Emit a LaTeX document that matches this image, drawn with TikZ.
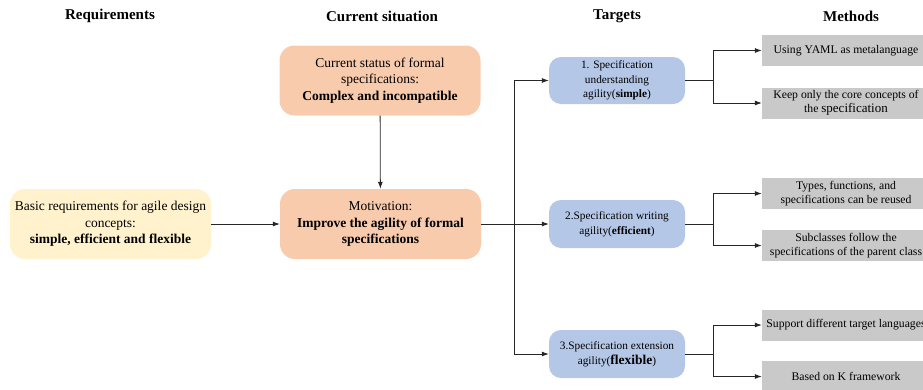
\documentclass[tikz,border=0pt]{standalone}
\usepackage{fontspec}
\setmainfont{Liberation Serif}
\usetikzlibrary{arrows.meta,positioning}
\definecolor{yel}{HTML}{FFF2CC}
\definecolor{ora}{HTML}{F8CBAD}
\definecolor{blu}{HTML}{B4C7E7}
\definecolor{gry}{HTML}{C9C9C9}
\begin{document}
\begin{tikzpicture}[x=1pt,y=-1pt,
  head/.style={font=\fontsize{15}{17}\selectfont\bfseries, inner sep=0pt},
  bigbox/.style={rounded corners=15pt, draw=none, minimum width=201pt, minimum height=70pt, align=center, inner sep=0pt, font=\fontsize{13.5}{16.5}\selectfont},
  tbox/.style={fill=blu, rounded corners=12pt, minimum width=136pt, minimum height=48pt, align=center, inner sep=0pt, font=\fontsize{11.3}{14.5}\selectfont},
  mbox/.style={fill=gry, minimum width=168pt, minimum height=31pt, align=center, inner sep=0pt, font=\fontsize{11.7}{14.5}\selectfont},
  conn/.style={draw=black!85, line width=0.8pt},
  arr/.style={conn, -{Latex[length=7pt,width=5pt]}}
]
\clip (0,0) rectangle (923,389);
\useasboundingbox (0,0) rectangle (923,389);

\node[head] (h1) at (110,16) {Requirements};
\node[head] (h2) at (382,16) {Current situation};
\node[head] (h3) at (617,16) {Targets};
\node[head] (h4) at (851,16) {Methods};

\node[bigbox, fill=yel] (req) at (110.5,224) {Basic requirements for agile design\\concepts:\\\textbf{simple, efficient and flexible}};
\node[bigbox, fill=ora] (cur) at (380,80.5) {Current status of formal\\specifications:\\\textbf{Complex and incompatible}};
\node[bigbox, fill=ora] (mot) at (380.5,224) {Motivation:\\\textbf{Improve the agility of formal}\\\textbf{specifications}};

\node[tbox, minimum height=47pt] (t1) at (617,80.5) {1. Specification\\understanding\\agility(\textbf{simple})};
\node[tbox] (t2) at (617,224) {2.Specification writing\\agility(\textbf{efficient})};
\node[tbox] (t3) at (617,354) {3.Specification extension\\agility(\textbf{\fontsize{13.5}{14.5}\selectfont flexible})};

\node[mbox] (m1) at (846,50.5) {Using YAML as metalanguage};
\node[mbox] (m2) at (846,103) {Keep only the core concepts of\\the {\fontsize{13}{14.5}\selectfont specification}};
\node[mbox] (m3) at (846,193.5) {Types, functions, and\\specifications can be reused};
\node[mbox] (m4) at (846,245.5) {Subclasses follow the\\specifications of the parent class};
\node[mbox] (m5) at (846,325) {Support different target languages};
\node[mbox] (m6) at (846,376.5) {Based on K framework};

\draw[arr] (cur) -- (mot);
\draw[arr] (req) -- (mot);

\coordinate (sp) at (514,224);
\draw[conn] (mot.east) -- (sp);
\draw[arr] (sp) |- (t1.west);
\draw[arr] (sp) -- (t2.west);
\draw[arr] (sp) |- (t3.west);

\coordinate (s1) at (713,80.5);
\coordinate (s2) at (713,224);
\coordinate (s3) at (713,354);
\draw[conn] (t1.east) -- (s1);
\draw[conn] (t2.east) -- (s2);
\draw[conn] (t3.east) -- (s3);
\draw[arr] (s1) |- (m1.west);
\draw[arr] (s1) |- (m2.west);
\draw[arr] (s2) |- (m3.west);
\draw[arr] (s2) |- (m4.west);
\draw[arr] (s3) |- (m5.west);
\draw[arr] (s3) |- (m6.west);
\end{tikzpicture}
\end{document}
